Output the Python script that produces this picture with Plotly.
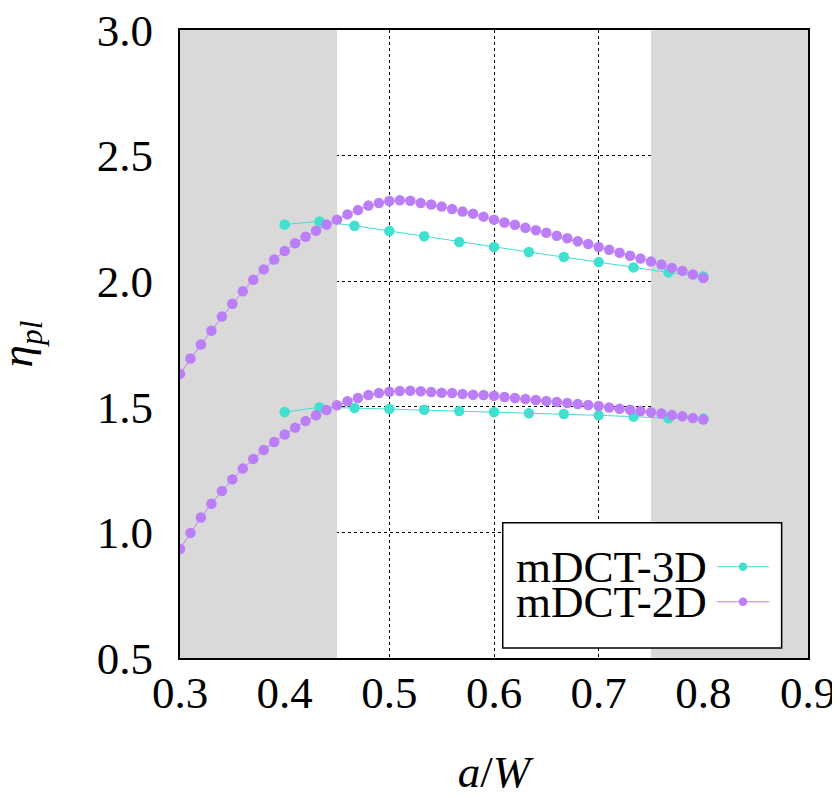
import plotly.graph_objects as go

# ---- data ----
x_3d = [0.4, 0.4333, 0.4667, 0.5, 0.5333, 0.5667, 0.6, 0.6333, 0.6667, 0.7, 0.7333, 0.7667, 0.8]
eta_3d_upper = [2.226, 2.238, 2.221, 2.200, 2.179, 2.156, 2.136, 2.116, 2.096, 2.076, 2.055, 2.035, 2.019]
eta_3d_lower = [1.479, 1.498, 1.495, 1.491, 1.488, 1.483, 1.479, 1.474, 1.471, 1.466, 1.461, 1.454, 1.453]

x_2d = [round(0.30 + 0.01 * i, 2) for i in range(51)]
eta_2d_upper = [1.631, 1.692, 1.748, 1.803, 1.859, 1.910, 1.960, 2.006, 2.047, 2.086,
                2.120, 2.151, 2.177, 2.201, 2.226, 2.245, 2.266, 2.283, 2.301, 2.311,
                2.319, 2.322, 2.320, 2.311, 2.305, 2.297, 2.287, 2.277, 2.269, 2.257,
                2.245, 2.234, 2.225, 2.213, 2.203, 2.193, 2.181, 2.171, 2.159, 2.148,
                2.136, 2.125, 2.113, 2.101, 2.090, 2.078, 2.066, 2.053, 2.041, 2.027,
                2.013]
eta_2d_lower = [0.934, 0.998, 1.059, 1.114, 1.165, 1.211, 1.254, 1.292, 1.328, 1.360,
                1.390, 1.417, 1.443, 1.466, 1.487, 1.506, 1.522, 1.535, 1.547, 1.555,
                1.560, 1.563, 1.564, 1.562, 1.559, 1.556, 1.555, 1.551, 1.548, 1.547,
                1.544, 1.539, 1.535, 1.531, 1.527, 1.523, 1.519, 1.515, 1.511, 1.507,
                1.503, 1.497, 1.492, 1.488, 1.483, 1.478, 1.473, 1.467, 1.462, 1.455,
                1.449]

shaded_ranges = [(0.3, 0.45), (0.75, 0.9)]
x_ticks = [0.3, 0.4, 0.5, 0.6, 0.7, 0.8, 0.9]
y_ticks = [0.5, 1.0, 1.5, 2.0, 2.5, 3.0]
series_names = ["mDCT-3D", "mDCT-2D"]
x_title = "<i>a</i>/<i>W</i>"
y_title = "<i>η</i><sub><i>pl</i></sub>"

# ---- style ----
C3 = "#40E0D0"
C2 = "#BC7EF8"
FONT = "Liberation Serif, Times New Roman, serif"
FS = 45

fig = go.Figure()
for yv in (eta_3d_upper, eta_3d_lower):
    fig.add_trace(go.Scatter(x=x_3d, y=yv, mode="lines+markers",
                             line=dict(color=C3, width=1),
                             marker=dict(color=C3, size=10.5),
                             showlegend=False, name=series_names[0]))
for yv in (eta_2d_upper, eta_2d_lower):
    fig.add_trace(go.Scatter(x=x_2d, y=yv, mode="lines+markers",
                             line=dict(color=C2, width=1),
                             marker=dict(color=C2, size=10.5),
                             showlegend=False, name=series_names[1]))

shapes = []
for a, b in shaded_ranges:
    shapes.append(dict(type="rect", xref="x", yref="y", x0=a, x1=b, y0=0.5, y1=3.0,
                       fillcolor="#d9d9d9", line=dict(width=0), layer="between"))

# manual gnuplot-style legend (text left, sample right)
lx0, lx1, ly0, ly1 = 0.5139, 0.958, 0.0159, 0.2154
shapes.append(dict(type="rect", xref="paper", yref="paper", x0=lx0, x1=lx1, y0=ly0, y1=ly1,
                   fillcolor="white", line=dict(color="black", width=1.5), layer="above"))
annotations = []
rows = [(series_names[0], C3, 0.1454), (series_names[1], C2, 0.0896)]
for name, col, yy in rows:
    annotations.append(dict(xref="paper", yref="paper", x=0.842, y=yy, text=name,
                            showarrow=False, xanchor="right", yanchor="middle",
                            height=34, valign="middle",
                            font=dict(family=FONT, size=FS, color="black")))
    shapes.append(dict(type="line", xref="paper", yref="paper", x0=0.855, x1=0.938,
                       y0=yy, y1=yy, line=dict(color=col, width=1), layer="above"))
    shapes.append(dict(type="circle", xref="paper", yref="paper",
                       x0=0.8965 - 0.0068, x1=0.8965 + 0.0068,
                       y0=yy - 0.0068, y1=yy + 0.0068,
                       fillcolor=col, line=dict(width=0), layer="above"))

# y-axis title as a rotated annotation (can sit closer to the page edge)
annotations.append(dict(xref="paper", yref="paper", x=-0.235, y=0.5, text=y_title,
                        textangle=-90, showarrow=False, xanchor="center", yanchor="middle",
                        xshift=-12, yshift=0,
                        font=dict(family=FONT, size=FS, color="black")))

# page body has an 8px margin, so the figure is sized/offset to compensate
fig.update_layout(
    width=832, height=790,
    margin=dict(l=172, r=32, t=22, b=140, autoexpand=False),
    paper_bgcolor="white", plot_bgcolor="white",
    font=dict(family=FONT, size=FS, color="black"),
    shapes=shapes, annotations=annotations,
    showlegend=False,
)
fig.update_xaxes(range=[0.3, 0.9], tickvals=x_ticks, ticktext=[f"{v:.1f}" for v in x_ticks],
                 showgrid=True, gridcolor="black", gridwidth=1, griddash="dot",
                 showline=True, linecolor="black", linewidth=2, mirror=True,
                 ticks="", zeroline=False, automargin=False, ticklabelstandoff=-6,
                 ticklabeloverflow="allow",
                 title=dict(text=x_title, standoff=38,
                            font=dict(family=FONT, size=FS)))
fig.update_yaxes(range=[0.5, 3.0], tickvals=y_ticks, ticktext=[f"{v:.1f}" for v in y_ticks],
                 showgrid=True, gridcolor="black", gridwidth=1, griddash="dot",
                 showline=True, linecolor="black", linewidth=2, mirror=True,
                 ticks="", zeroline=False, automargin=False, ticklabelstandoff=16,
                 ticklabeloverflow="allow")

fig.write_html("out.html")
